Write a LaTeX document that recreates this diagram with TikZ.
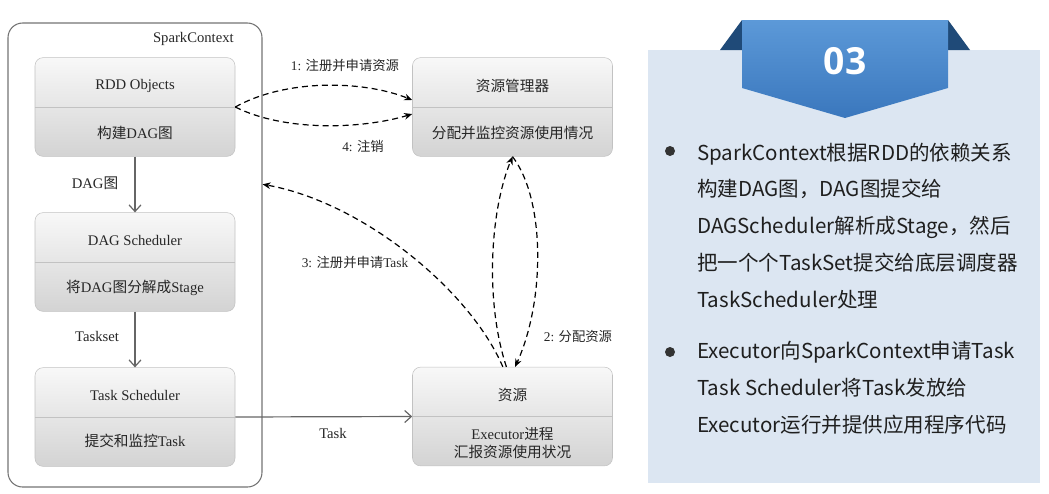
\documentclass[tikz,border=0pt]{standalone}
\usepackage{fontspec}
\setmainfont{Liberation Serif}
\newfontfamily\cjk{Noto Sans CJK SC}
\newfontfamily\numfont{Open Sans}
\newcommand\zh[1]{{\cjk #1}}
\usetikzlibrary{arrows.meta}

\definecolor{boxtop}{HTML}{F8F8F8}
\definecolor{boxbot}{HTML}{D3D3D3}
\definecolor{boxline}{HTML}{C2C2C2}
\definecolor{panel}{HTML}{DCE6F2}
\definecolor{bannertop}{HTML}{5C99D8}
\definecolor{bannerbot}{HTML}{3A77BD}
\definecolor{ear}{HTML}{1F4A78}

\begin{document}
\begin{tikzpicture}[x=0.75pt, y=-0.75pt,
    box/.style={draw=boxline, rounded corners=6pt, top color=boxtop, bottom color=boxbot,
      minimum width=150pt, minimum height=74pt, inner sep=0pt},
    boxtext/.style={font=\fontsize{11}{14}\selectfont, text=black!85, inner sep=0pt},
    lab/.style={font=\fontsize{10}{12}\selectfont, text=black!85, inner sep=0pt},
    flow/.style={draw=black!60, line width=0.9pt, -{Straight Barb[length=5pt, width=9pt]}},
    call/.style={draw=black, line width=0.9pt, dash pattern=on 4.5pt off 3pt,
      -{Stealth[length=6pt, width=5pt]}},
    bullet/.style={font=\cjk\fontsize{15.4}{18}\selectfont, text=black!88, inner sep=0pt, anchor=base west}]
  \useasboundingbox (0,0) rectangle (1049,493);

  % SparkContext and its three stages
  \node[draw=black!55, line width=0.8pt, rounded corners=11pt,
    minimum width=190.5pt, minimum height=348pt] (sc) at (135,255) {};
  \node[boxtext, anchor=east] (sc-name) at (234,39) {SparkContext};

  \node[box] (rdd) at (135,107) {};
  \node[box] (dag) at (135,262) {};
  \node[box] (ts) at (135,417) {};
  \node[box] (rm) at (512.5,107) {};
  \node[box] (res) at (512.5,416.5) {};
  \foreach \b in {rdd, dag, ts, rm, res}
    \draw[boxline] (\b.west) -- (\b.east);

  \node[boxtext] (rdd-t) at (135,86) {RDD Objects};
  \node[boxtext] (rdd-b) at (135,133) {\zh{构建}DAG\zh{图}};
  \node[boxtext] (dag-t) at (135,240) {DAG Scheduler};
  \node[boxtext] (dag-b) at (135,288) {\zh{将}DAG\zh{图分解成}Stage};
  \node[boxtext] (ts-t) at (135,395) {Task Scheduler};
  \node[boxtext] (ts-b) at (135,441) {\zh{提交和监控}Task};
  \node[boxtext] (rm-t) at (512.5,86) {\zh{资源管理器}};
  \node[boxtext] (rm-b) at (512.5,133) {\zh{分配并监控资源使用情况}};
  \node[boxtext] (res-t) at (512.5,395) {\zh{资源}};
  \node[boxtext, align=center] (res-b) at (512.5,443) {Executor\zh{进程}\\\zh{汇报资源使用状况}};

  \draw[flow] (rdd.south) -- (dag.north);
  \draw[flow] (dag.south) -- (ts.north);
  \draw[flow] (ts.east) -- (res.west);
  \node[boxtext] (l-dag) at (95,183) {DAG\zh{图}};
  \node[boxtext] (l-set) at (97,336) {Taskset};
  \node[boxtext] (l-task) at (333,433) {Task};

  % dashed requests
  \draw[call] (rdd.east) .. controls +(50,-28) and +(-50,-20) .. (rm.176);
  \draw[call] (rdd.east) .. controls +(50,25) and +(-50,15) .. (rm.184);
  \draw[call] (res.101) .. controls +(-33,-77) and +(100,18) .. (sc.29);
  \draw[call] (res.97) .. controls +(-22,-67) and +(-22,53) .. (rm.south);
  \draw[call] (rm.south) .. controls +(33,43) and +(30,-66) .. (res.87);
  \node[lab] (l-one) at (345,65) {1: \zh{注册并申请资源}};
  \node[lab] (l-four) at (363,146) {4: \zh{注销}};
  \node[lab] (l-three) at (355,262) {3: \zh{注册并申请}Task};
  \node[lab] (l-two) at (578,336) {2: \zh{分配资源}};

  % right panel
  \fill[panel] (648,50) rectangle (1040,483);
  \fill[ear] (720,50) -- (742,20) -- (742,50) -- cycle;
  \fill[ear] (948,20) -- (970,50) -- (948,50) -- cycle;
  \shade[top color=bannertop, bottom color=bannerbot]
    (742,20) -- (948,20) -- (948,88) -- (845,118) -- (742,88) -- cycle;
  \node[font=\numfont\bfseries\fontsize{28}{30}\selectfont, text=white] (num) at (845,61) {03};

  \fill[black!80] (670,151) circle (5);
  \fill[black!80] (670,352) circle (5);
  \foreach \t [count=\i] in {SparkContext根据RDD的依赖关系, 构建DAG图，DAG图提交给,
      DAGScheduler解析成Stage，然后, 把一个个TaskSet提交给底层调度器, TaskScheduler处理}
    \node[bullet] (p1-\i) at (697,{160+36.8*(\i-1)}) {\t};
  \foreach \t [count=\i] in {Executor向SparkContext申请Task, Task Scheduler将Task发放给,
      Executor运行并提供应用程序代码}
    \node[bullet] (p2-\i) at (697,{358+37*(\i-1)}) {\t};
\end{tikzpicture}
\end{document}
